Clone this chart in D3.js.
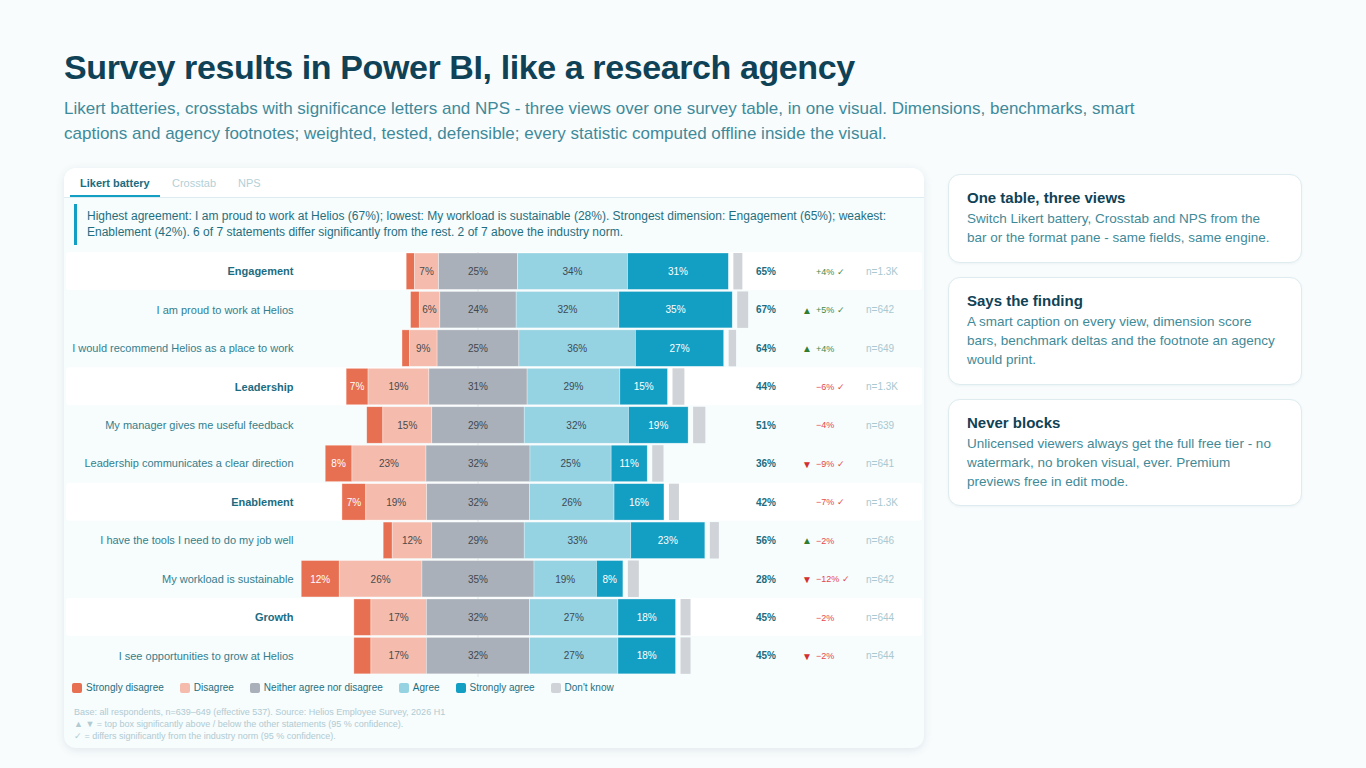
<!DOCTYPE html>
<html><head><meta charset="utf-8">
<script src="https://cdn.jsdelivr.net/npm/d3@7/dist/d3.min.js"></script>
<style>
html,body{margin:0;padding:0;width:1366px;height:768px;overflow:hidden;background:#f8fcfd;font-family:"Liberation Sans",Arial,sans-serif}
h1{position:absolute;left:64px;top:47px;margin:0;font-size:34px;line-height:40px;font-weight:700;color:#0f4256;white-space:nowrap;letter-spacing:-0.4px}
.sub{position:absolute;left:64px;top:96px;width:1090px;font-size:17px;line-height:25px;color:#3f8a9a}
.card{position:absolute;left:64px;top:168px;width:860px;height:580px;border-radius:12px;background:#f7fcfd;box-shadow:0 2px 10px rgba(15,61,79,.10);overflow:hidden}
.tabbar{position:absolute;left:0;top:0;width:860px;height:29px;background:#fff;border-bottom:1px solid #dcecf0}
.tab{position:absolute;top:8px;font-size:11px;line-height:14px;color:#b3d0d7}
.tab.on{font-weight:700;color:#1c6c80}
.tabline{position:absolute;left:6px;top:27px;width:90px;height:2px;background:#139ec3}
.caption{position:absolute;left:10px;top:36px;width:834px;border-left:3px solid #139ec3;padding-left:10px;font-size:12px;line-height:16px;color:#1f6f80;padding-top:4px;height:37px;white-space:nowrap}
.side{position:absolute;left:948px;width:354px;box-sizing:border-box;background:#fff;border:1px solid #deecef;border-radius:12px;box-shadow:0 1px 3px rgba(15,61,79,.05);padding:14px 18px}
.side b{display:block;font-size:15px;line-height:18px;color:#0f4256}
.side span{display:block;font-size:13.5px;line-height:19px;color:#3f8a98;margin-top:2px}
#legend{position:absolute;left:72px;top:681px;display:flex;gap:16px;font-size:10px;line-height:13px;color:#1f6f80;white-space:nowrap}
#legend div{display:flex;align-items:center;gap:4px}
#legend i{display:block;width:10px;height:10px;border-radius:2px}
.foot{position:absolute;left:74px;top:706px;font-size:9px;line-height:12px;color:#b0cbd2;white-space:nowrap}
svg{position:absolute;left:0;top:0}
</style></head>
<body>
<h1>Survey results in Power BI, like a research agency</h1>
<div class="sub">Likert batteries, crosstabs with significance letters and NPS - three views over one survey table, in one visual. Dimensions, benchmarks, smart<br>captions and agency footnotes; weighted, tested, defensible; every statistic computed offline inside the visual.</div>
<div class="card">
  <div class="tabbar"></div>
  <div class="tab on" style="left:16px">Likert battery</div>
  <div class="tab" style="left:108px">Crosstab</div>
  <div class="tab" style="left:174px">NPS</div>
  <div class="tabline"></div>
  <div class="caption">Highest agreement: I am proud to work at Helios (67%); lowest: My workload is sustainable (28%). Strongest dimension: Engagement (65%); weakest:<br>Enablement (42%). 6 of 7 statements differ significantly from the rest. 2 of 7 above the industry norm.</div>
</div>
<svg id="chart" width="1366" height="768"></svg>
<div id="legend"></div>
<div class="foot">Base: all respondents, n=639–649 (effective 537). Source: Helios Employee Survey, 2026 H1<br>▲ ▼ = top box significantly above / below the other statements (95 % confidence).<br>✓ = differs significantly from the industry norm (95 % confidence).</div>
<div class="side" style="top:174px;height:88.5px"><b>One table, three views</b><span>Switch Likert battery, Crosstab and NPS from the bar or the format pane - same fields, same engine.</span></div>
<div class="side" style="top:277px;height:107.5px"><b>Says the finding</b><span>A smart caption on every view, dimension score bars, benchmark deltas and the footnote an agency would print.</span></div>
<div class="side" style="top:399px;height:106.5px"><b>Never blocks</b><span>Unlicensed viewers always get the full free tier - no watermark, no broken visual, ever. Premium previews free in edit mode.</span></div>
<script>
const categories = ["Engagement","I am proud to work at Helios","I would recommend Helios as a place to work","Leadership","My manager gives me useful feedback","Leadership communicates a clear direction","Enablement","I have the tools I need to do my job well","My workload is sustainable","Growth","I see opportunities to grow at Helios"];
const dimensions = ["Engagement","Leadership","Enablement","Growth"];
const stronglyDisagree = [2.6,2.7,2.3,6.8,5.0,8.3,7.4,2.8,11.8,5.3,5.3];
const disagree         = [7.45,6.4,8.6,18.9,15.2,23.0,18.9,12.3,25.7,17.2,17.2];
const neutral          = [24.5,23.7,25.4,30.5,28.7,32.3,31.9,28.7,34.8,32.1,32.1];
const agree            = [34.2,31.9,36.2,28.8,32.4,25.2,26.3,33.1,19.4,27.4,27.4];
const stronglyAgree    = [31.3,35.2,27.4,14.8,18.5,11.2,15.5,23.0,8.2,17.9,17.9];
const dontKnow         = [2.8,3.4,2.3,3.7,3.8,3.5,3.1,2.8,3.4,3.1,3.1];
const topBox   = ["65%","67%","64%","44%","51%","36%","42%","56%","28%","45%","45%"];
const arrows   = ["","▲","▲","","","▼","","▲","▼","","▼"];
const deltas   = ["+4% ✓","+5% ✓","+4%","−6% ✓","−4%","−9% ✓","−7% ✓","−2%","−12% ✓","−2%","−2%"];
const bases    = ["n=1.3K","n=642","n=649","n=1.3K","n=639","n=641","n=1.3K","n=646","n=642","n=644","n=644"];
const segNames  = ["Strongly disagree","Disagree","Neither agree nor disagree","Agree","Strongly agree"];
const segColors = ["#e87052","#f5bcae","#a9b0b9","#95d2e2","#139ec3"];
const segText   = ["#ffffff","#4a4a4a","#3f4750","#3c4a55","#ffffff"];
const dkName = "Don't know", dkColor = "#d0d4d8";
const labelMin = 6;

const svg = d3.select("#chart");
const x = d3.scaleLinear().domain([-55,85]).range([300.9,751.7]);
const y = d3.scaleBand().domain(categories).range([252,674.84]);
const isDim = c => dimensions.includes(c);
const series = [stronglyDisagree,disagree,neutral,agree,stronglyAgree];

svg.selectAll("rect.band").data(categories.filter(isDim)).join("rect")
  .attr("x",66).attr("width",856).attr("y",d=>y(d)).attr("height",y.step()-0.4).attr("rx",3).attr("fill","#fff");
svg.append("line").attr("x1",x(0)).attr("x2",x(0)).attr("y1",252).attr("y2",677).attr("stroke","#dfe6ea").attr("stroke-width",1);

categories.forEach((c,i)=>{
  const vals = series.map(s=>s[i]);
  const start = -(vals[0]+vals[1]+vals[2]/2);
  const g = svg.append("g");
  const by = y(c)+1, bh = y.step()-2, mid = y(c)+y.step()/2, cy = mid+0.38;
  let acc = start;
  vals.forEach((v,k)=>{
    const x0 = x(acc), x1 = x(acc+v);
    g.append("rect").attr("x",x0).attr("y",by).attr("width",x1-x0).attr("height",bh)
      .attr("fill",segColors[k]).attr("stroke","#ffffff").attr("stroke-opacity",.55).attr("stroke-width",.6);
    if(v>=labelMin) g.append("text").attr("x",(x0+x1)/2).attr("y",cy).attr("dy","0.34em")
      .attr("text-anchor","middle").attr("font-size",10).attr("fill",segText[k]).text(Math.round(v)+"%");
    acc += v;
  });
  const dk0 = x(acc)+5, dk1 = dk0 + (x(dontKnow[i])-x(0));
  g.append("rect").attr("x",dk0).attr("y",by).attr("width",dk1-dk0).attr("height",bh).attr("fill",dkColor);

  const dim = isDim(c);
  svg.append("text").attr("x",293.5).attr("y",mid+0.24).attr("dy","0.34em").attr("text-anchor","end")
    .attr("font-size",11).attr("font-weight",dim?700:400).attr("fill",dim?"#1c6c80":"#337f8e").text(c);
  svg.append("text").attr("x",756).attr("y",cy).attr("dy","0.34em").attr("font-size",10).attr("font-weight",700).attr("fill","#1c6c80").text(topBox[i]);
  const up = arrows[i]==="▲";
  if(arrows[i]) svg.append("text").attr("x",807).attr("y",cy).attr("dy","0.38em").attr("text-anchor","middle").attr("font-size",10).attr("fill",up?"#2e7d32":"#d32f2f").text(arrows[i]);
  const pos = deltas[i][0]==="+";
  svg.append("text").attr("x",816).attr("y",cy).attr("dy","0.34em").attr("font-size",9).attr("fill",pos?"#3f8a4e":"#e5484d").text(deltas[i]);
  svg.append("text").attr("x",866).attr("y",cy).attr("dy","0.34em").attr("font-size",10).attr("fill","#a9c8d0").text(bases[i]);
});

const legend = d3.select("#legend");
segNames.concat([dkName]).forEach((n,i)=>{
  const it = legend.append("div");
  it.append("i").style("background",i<5?segColors[i]:dkColor);
  it.append("span").text(n);
});
</script>
</body></html>
